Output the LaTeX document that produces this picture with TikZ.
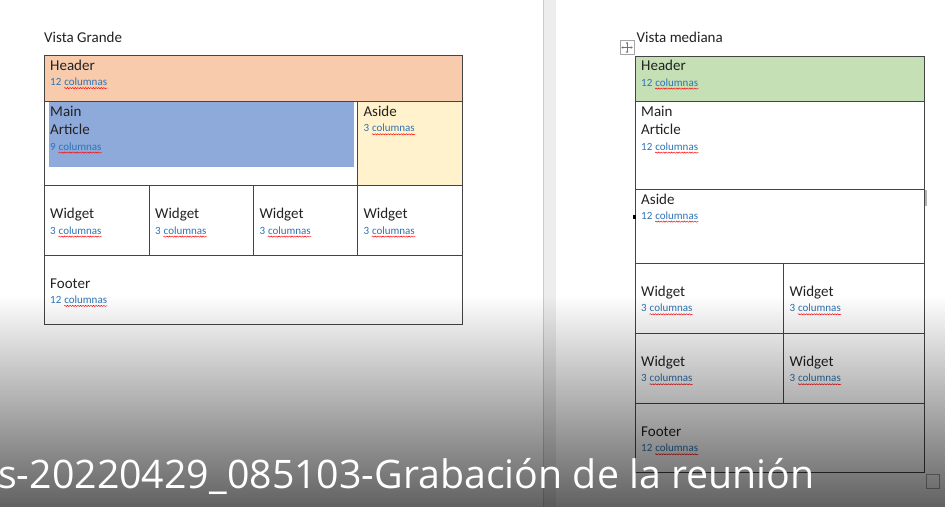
\documentclass[tikz,border=0pt]{standalone}
\usepackage{fontspec}
\setmainfont{Carlito}
\newfontfamily\capfont{Open Sans}
\usetikzlibrary{decorations.pathmorphing,fadings,arrows.meta}
\definecolor{txt}{HTML}{222222}
\definecolor{subblue}{HTML}{2E74B5}
\definecolor{peach}{HTML}{F8CBAD}
\definecolor{cream}{HTML}{FFF2CC}
\definecolor{hlblue}{HTML}{8EAADB}
\definecolor{lgreen}{HTML}{C5E0B4}
\definecolor{gridc}{HTML}{444444}
\definecolor{strip}{HTML}{EDEDED}
\tikzfading[name=fadedown, top color=transparent!100, bottom color=transparent!0]
\newcommand\cellt[6]{%
  \node[ttl, anchor=base west] (#1t) at (#2,#3) {#4};
  \node[sub, anchor=base west] (#1n) at (#2,#6) {#5\kern0.23em};
  \node[sub, anchor=base west] (#1w) at (#1n.base east) {columnas};
  \draw[wave] ([yshift=-2.6pt]#1w.base west) -- ([yshift=-2.6pt]#1w.base east);
}
\begin{document}
\begin{tikzpicture}[x=1pt,y=-1pt,
  ttl/.style={inner sep=0, text=txt, font=\fontsize{15}{18}\selectfont},
  sub/.style={inner sep=0, text=subblue, font=\fontsize{11}{13}\selectfont},
  wave/.style={red, line width=0.45pt, decorate, decoration={snake, segment length=2.6pt, amplitude=0.6pt}},
  cellb/.style={draw=gridc, line width=1pt}]
\useasboundingbox (0,0) rectangle (947,507);
\fill[white] (0,0) rectangle (947,507);
% divider strip
\fill[strip] (543,0) rectangle (556,507);
\draw[gray!40, line width=0.6pt] (543,0) -- (543,507);

% ===== Left table =====
\node[ttl, anchor=base west] (vg) at (44,42.5) {Vista Grande};
\fill[peach] (44,55.7) rectangle (462.3,101.3);
\fill[cream] (357.7,101.3) rectangle (462.3,185);
\fill[hlblue] (49,102.3) rectangle (354.3,166.7);
\draw[cellb] (44,55.7) rectangle (462.3,324);
\draw[cellb] (44,101.3) -- (462.3,101.3);
\draw[cellb] (44,185) -- (462.3,185);
\draw[cellb] (44,255.3) -- (462.3,255.3);
\draw[cellb] (357.7,101.3) -- (357.7,255.3);
\draw[cellb] (149,185) -- (149,255.3);
\draw[cellb] (253.7,185) -- (253.7,255.3);

\cellt{lh}{50}{70.7}{Header}{12}{85.5}
\cellt{lm}{50}{116}{Main}{9}{150}
\node[ttl, anchor=base west] (lmart) at (50,134.3) {Article};
\cellt{la}{363.3}{116}{Aside}{3}{131.7}
\cellt{lwa}{50}{218.7}{Widget}{3}{234}
\cellt{lwb}{155}{218.7}{Widget}{3}{234}
\cellt{lwc}{259.3}{218.7}{Widget}{3}{234}
\cellt{lwd}{363.3}{218.7}{Widget}{3}{234}
\cellt{lf}{50}{288.3}{Footer}{12}{303.3}

% ===== Right table =====
\node[ttl, anchor=base west] (vm) at (636.5,42.3) {Vista mediana};
% move handle
\draw[gray!70, line width=0.6pt, fill=white] (620,40.5) rectangle (634,54.5);
\draw[gray!90!black, line width=0.6pt, -{Stealth[length=2pt,width=2.4pt]}] (627,47.5) -- (627,41.8);
\draw[gray!90!black, line width=0.6pt, -{Stealth[length=2pt,width=2.4pt]}] (627,47.5) -- (627,53.2);
\draw[gray!90!black, line width=0.6pt, -{Stealth[length=2pt,width=2.4pt]}] (627,47.5) -- (621.3,47.5);
\draw[gray!90!black, line width=0.6pt, -{Stealth[length=2pt,width=2.4pt]}] (627,47.5) -- (632.7,47.5);

\fill[lgreen] (635.5,56) rectangle (924.3,101.3);
\draw[cellb] (635.5,56) rectangle (924.3,472.7);
\draw[cellb] (635.5,101.3) -- (924.3,101.3);
\draw[cellb] (635.5,189.5) -- (924.3,189.5);
\draw[cellb] (635.5,263.3) -- (924.3,263.3);
\draw[cellb] (635.5,333.5) -- (924.3,333.5);
\draw[cellb] (635.5,403.3) -- (924.3,403.3);
\draw[cellb] (783.7,263.3) -- (783.7,403.3);
% resize marks
\fill[gray!60] (924.8,190) rectangle (927,206);
\draw[gray!70, line width=0.8pt] (926,474.5) rectangle (939.5,488.5);
\fill[black] (632.8,215) rectangle (635.8,219);

\cellt{rh}{641}{70.7}{Header}{12}{86}
\cellt{rm}{641}{116}{Main}{12}{150}
\node[ttl, anchor=base west] (rmart) at (641,134) {Article};
\cellt{ra}{641}{204}{Aside}{12}{219}
\cellt{rwa}{641}{296.3}{Widget}{3}{311.7}
\cellt{rwb}{789.3}{296.3}{Widget}{3}{311.7}
\cellt{rwc}{641}{366}{Widget}{3}{381.7}
\cellt{rwd}{789.3}{366}{Widget}{3}{381.7}
\cellt{rf}{641}{436}{Footer}{12}{451.7}

% ===== gray gradient overlay =====
\fill[black, fill opacity=0.62, path fading=fadedown, fit fading=true] (0,295) rectangle (947,507);

% caption
\node[anchor=base west, inner sep=0, text=white, font=\capfont\fontsize{39.3}{46}\selectfont] (cap) at (-2,488) {s-20220429\_085103-Grabación de la reunión};
\end{tikzpicture}
\end{document}
